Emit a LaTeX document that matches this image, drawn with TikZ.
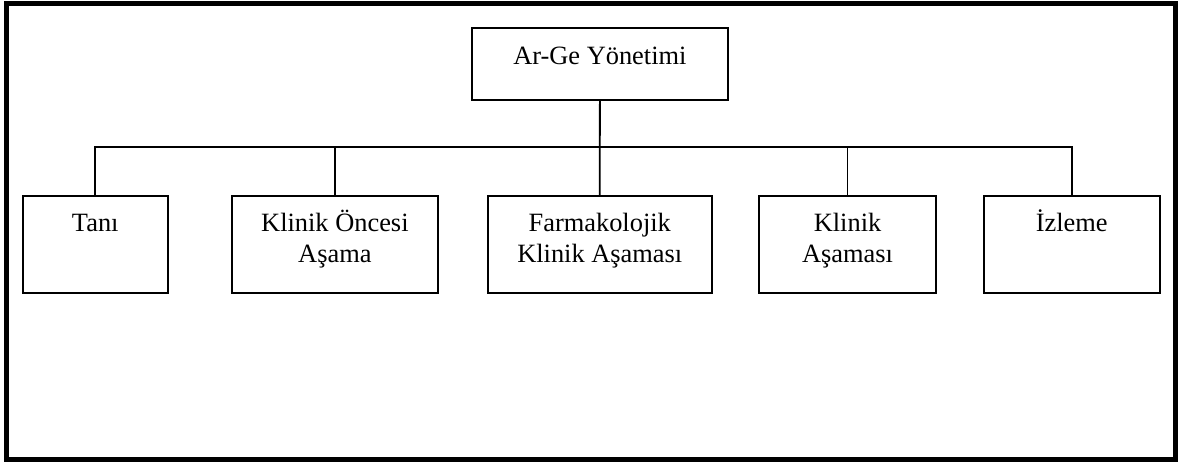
\documentclass[tikz,border=0pt]{standalone}
\usepackage{fontspec}
\setmainfont{Liberation Serif}
\begin{document}
\begin{tikzpicture}[x=1pt,y=-1pt,
  box/.style={draw,line width=1.8pt,inner sep=0pt,anchor=north west,
    font=\fontsize{26.4}{30.5}\selectfont},
  link/.style={line width=1.8pt},
  frame/.style={line width=5pt}]
\useasboundingbox (0,0) rectangle (1187,463);
% outer frame
\draw[frame] (6.5,3.3) rectangle (1175.5,459);
% top unit
\node[box,minimum width=256.6pt,text height=37.3pt,text depth=35pt]
  (top) at (470.7,26.7) {\parbox[t]{256.6pt}{\centering Ar-Ge Yönetimi}};
% stages
\node[box,minimum width=144.7pt,text height=35.7pt,text depth=61pt]
  (tani) at (22,195) {\parbox[t]{144.7pt}{\centering Tanı}};
\node[box,minimum width=206.6pt,text height=35.7pt,text depth=61pt]
  (onc) at (230.7,195) {\parbox[t]{206.6pt}{\centering Klinik Öncesi\\Aşama}};
\node[box,minimum width=224.3pt,text height=35.7pt,text depth=61pt]
  (farm) at (486.7,195) {\parbox[t]{224.3pt}{\centering Farmakolojik\\Klinik Aşaması}};
\node[box,minimum width=176.7pt,text height=35.7pt,text depth=61pt]
  (klin) at (758.3,195) {\parbox[t]{176.7pt}{\centering Klinik\\Aşaması}};
\node[box,minimum width=176.3pt,text height=35.7pt,text depth=61pt]
  (izl) at (982.7,195) {\parbox[t]{176.3pt}{\centering İzleme}};
% connectors
\draw[link] (top.south) -- (farm.north);
\draw[link] (tani.north) -- ++(0,-48) -| (izl.north);
\draw[link] (onc.north) -- ++(0,-48);
\draw[link] (klin.north) -- ++(0,-48);
\end{tikzpicture}
\end{document}
